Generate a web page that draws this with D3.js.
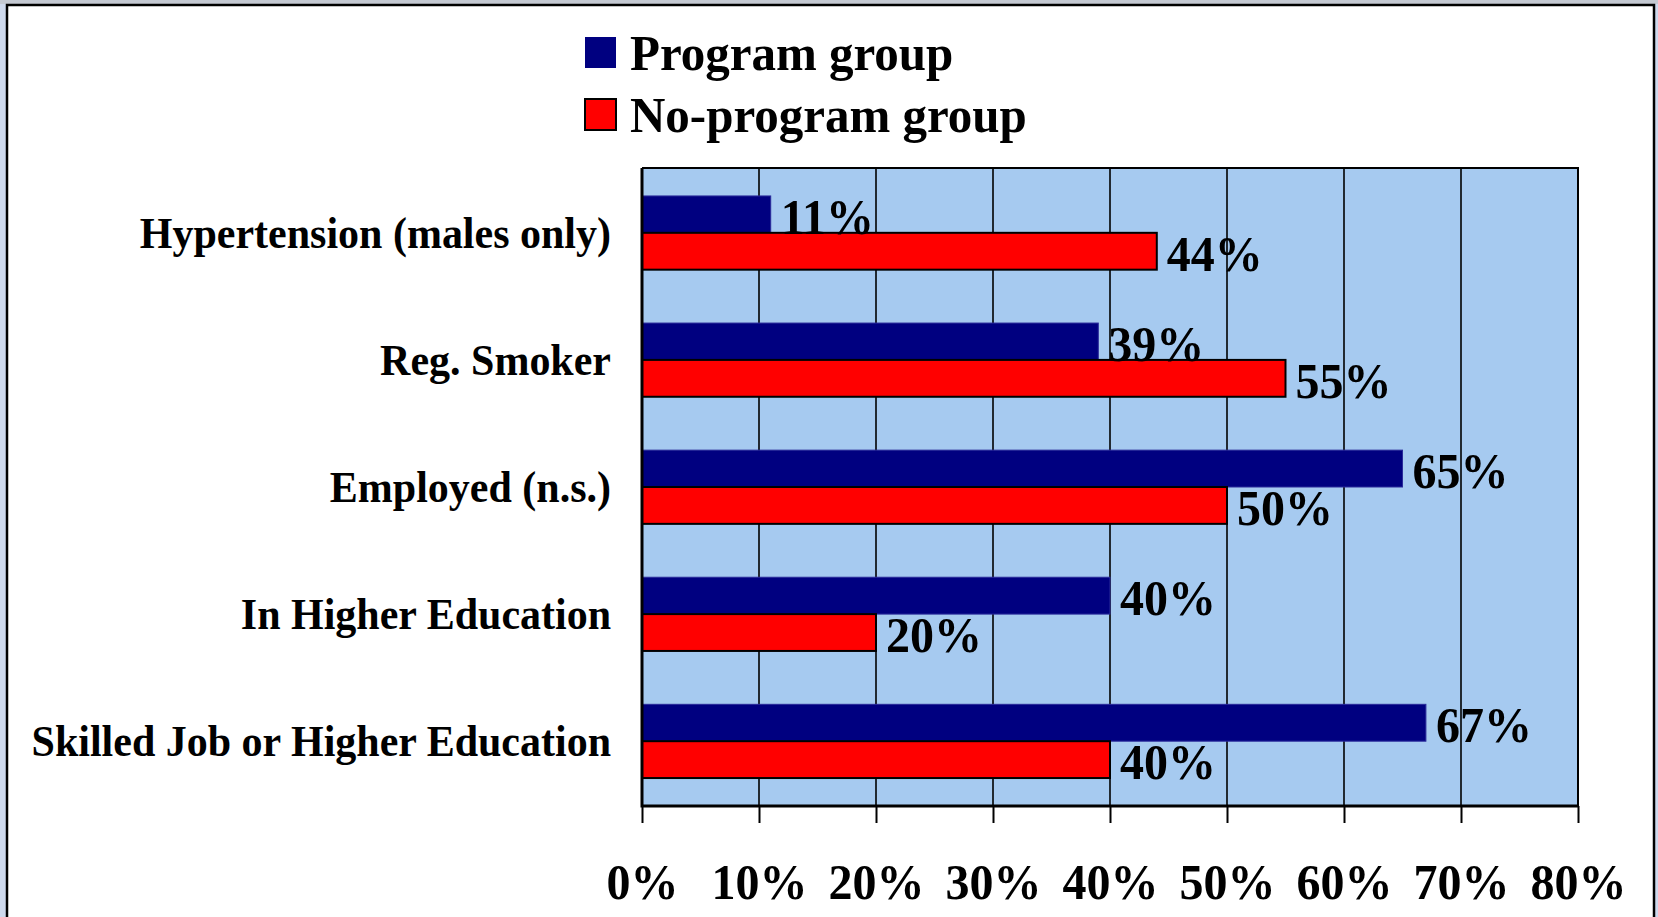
<!DOCTYPE html>
<html>
<head>
<meta charset="utf-8">
<script src="https://cdn.jsdelivr.net/npm/d3@7"></script>
<style>
  body { margin: 0; background: #ced9ed; }
  svg { display: block; }
  text { font-family: "Liberation Serif", "Times New Roman", serif; font-weight: bold; fill: #000; }
</style>
</head>
<body>
<div id="svgContainer"></div>
<script>
const categories = [
  "Hypertension (males only)",
  "Reg. Smoker",
  "Employed (n.s.)",
  "In Higher Education",
  "Skilled Job or Higher Education",
];
const programValues = [11, 39, 65, 40, 67];
const noProgramValues = [44, 55, 50, 20, 40];
const seriesNames = ["Program group", "No-program group"];
const seriesColors = ["#000080", "#ff0000"];
const tickValues = [0, 10, 20, 30, 40, 50, 60, 70, 80];

const width = 1658;
const height = 917;

const svg = d3.select("#svgContainer")
  .append("svg")
  .attr("width", width)
  .attr("height", height)
  .attr("viewBox", `0 0 ${width} ${height}`);

// outer frame
svg.append("rect").attr("x", 0).attr("y", 0).attr("width", width).attr("height", 4).attr("fill", "#c4c9d2");
svg.append("rect")
  .attr("x", 7).attr("y", 5)
  .attr("width", 1647).attr("height", 930)
  .attr("fill", "#fff")
  .attr("stroke", "#000")
  .attr("stroke-width", 2.5);

const plot = { left: 642, right: 1578, top: 168, bottom: 806 };

const x = d3.scaleLinear().domain([0, 80]).range([plot.left, plot.right]);
const y0 = d3.scaleBand()
  .domain(categories)
  .range([plot.top, plot.bottom])
  .paddingInner(0.42)
  .paddingOuter(0.22);
const y1 = d3.scaleBand()
  .domain(seriesNames)
  .range([0, y0.bandwidth()]);

// plot background
svg.append("rect")
  .attr("x", plot.left).attr("y", plot.top)
  .attr("width", plot.right - plot.left).attr("height", plot.bottom - plot.top)
  .attr("fill", "#a6caf0");

// gridlines
svg.append("g")
  .selectAll("line")
  .data(tickValues.slice(1))
  .join("line")
  .attr("x1", d => x(d)).attr("x2", d => x(d))
  .attr("y1", plot.top).attr("y2", plot.bottom)
  .attr("stroke", "#000")
  .attr("stroke-width", 1.6);

// plot border top/right
svg.append("path")
  .attr("d", `M${plot.left},${plot.top}H${plot.right}V${plot.bottom}`)
  .attr("fill", "none")
  .attr("stroke", "#000")
  .attr("stroke-width", 2);

// bars
const rows = categories.map((c, i) => ({
  category: c,
  values: [
    { series: seriesNames[0], value: programValues[i], color: seriesColors[0] },
    { series: seriesNames[1], value: noProgramValues[i], color: seriesColors[1] },
  ],
}));

const groups = svg.append("g")
  .selectAll("g")
  .data(rows)
  .join("g")
  .attr("transform", d => `translate(0,${y0(d.category)})`);

groups.selectAll("rect")
  .data(d => d.values)
  .join("rect")
  .attr("x", x(0))
  .attr("y", d => y1(d.series))
  .attr("width", d => x(d.value) - x(0))
  .attr("height", y1.bandwidth())
  .attr("fill", d => d.color)
  .attr("stroke", d => d.series === seriesNames[0] ? "#2a2a9a" : "#000")
  .attr("stroke-width", d => d.series === seriesNames[0] ? 1 : 2);

// value labels, slightly stretched vertically like the original
groups.selectAll("text")
  .data(d => d.values)
  .join("text")
  .attr("transform", d => `translate(${x(d.value) + 10},${y1(d.series) + y1.bandwidth() + 1}) scale(1,1.06)`)
  .attr("font-size", 48)
  .text(d => d.value + "%");

// x axis
const xAxis = svg.append("g")
  .attr("transform", `translate(0,${plot.bottom})`)
  .call(d3.axisBottom(x).tickValues(tickValues).tickSize(17).tickFormat(d => d + "%"));
xAxis.select(".domain").remove();
xAxis.selectAll(".tick line").attr("stroke", "#000").attr("stroke-width", 2);
xAxis.selectAll(".tick text")
  .attr("y", null)
  .attr("dy", 0)
  .attr("transform", "translate(0,93) scale(1,1.05)")
  .attr("font-size", 48)
  .attr("font-family", null);

// axis lines (left and bottom, heavier)
svg.append("path")
  .attr("d", `M${plot.left},${plot.top}V${plot.bottom}H${plot.right + 1}`)
  .attr("fill", "none")
  .attr("stroke", "#000")
  .attr("stroke-width", 3);

// category labels
svg.append("g")
  .selectAll("text")
  .data(categories)
  .join("text")
  .attr("transform", d => `translate(611,${y0(d) + y0.bandwidth() / 2 + 15}) scale(1,1.06)`)
  .attr("text-anchor", "end")
  .attr("font-size", 42)
  .text(d => d);

// legend
const legend = svg.append("g")
  .selectAll("g")
  .data(seriesNames)
  .join("g")
  .attr("transform", (d, i) => `translate(585,${37 + i * 62})`);

legend.append("rect")
  .attr("width", 31).attr("height", 31)
  .attr("fill", (d, i) => seriesColors[i])
  .attr("stroke", (d, i) => i === 0 ? "none" : "#000")
  .attr("stroke-width", 2);

legend.append("text")
  .attr("transform", "translate(45,33) scale(1,1.05)")
  .attr("font-size", 49)
  .text(d => d);
</script>
</body>
</html>
